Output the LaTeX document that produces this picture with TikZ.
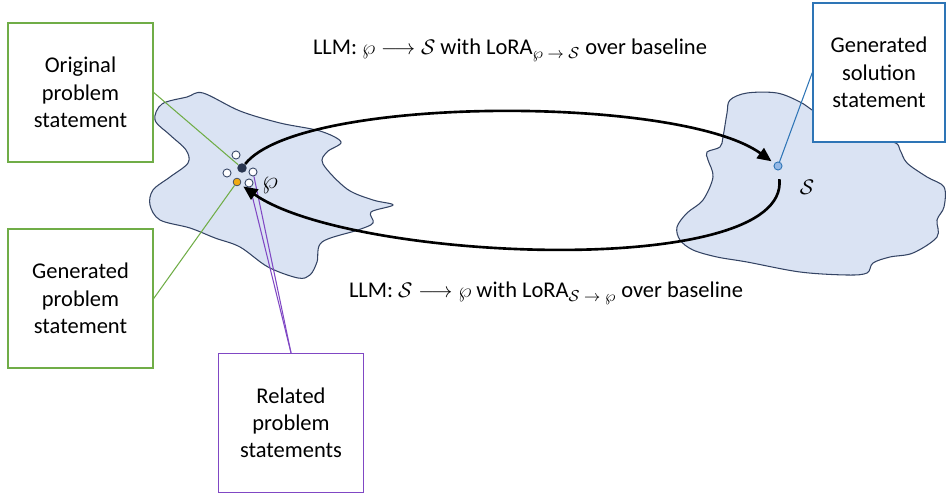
\documentclass[tikz,border=0pt]{standalone}
\usepackage{amsmath}
\usepackage{fontspec}
\setmainfont{Carlito}
\usepackage{xcolor}
\usetikzlibrary{arrows.meta,positioning,calc}

\definecolor{boxgreen}{RGB}{112,173,71}
\definecolor{boxblue}{RGB}{46,117,182}
\definecolor{boxpurple}{RGB}{128,72,196}
\definecolor{blobfill}{RGB}{218,227,243}
\definecolor{blobedge}{RGB}{52,68,100}
\definecolor{dotyellow}{RGB}{240,170,20}
\definecolor{dotblue}{RGB}{150,185,230}

\begin{document}
\begin{tikzpicture}[
x=0.02cm, y=-0.02cm,
every node/.style={font=\fontsize{12.8}{15.5}\selectfont},
labelbox/.style={draw, fill=white, line width=0.8pt, align=center, minimum width=2.9cm, minimum height=2.78cm, inner sep=2pt},
blob/.style={draw=blobedge, fill=blobfill, line width=0.6pt},
dotw/.style={circle, draw=blobedge, fill=white, line width=0.5pt, inner sep=0pt, minimum size=4.6pt},
loop/.style={line width=1.5pt, -{Triangle[length=8pt,width=7pt]}},
leader/.style={line width=0.6pt}
]
\useasboundingbox (0,0) rectangle (946,493);

% problem space and solution space
\draw[blob] plot[smooth cycle, tension=0.55] coordinates {
(203,93) (240,111) (280,123) (320,131) (341,142) (327,152) (323,164)
(347,189) (373,200) (393,205) (371,212) (373,223) (358,230) (322,242)
(317,262) (310,275) (298,278) (268,267) (240,247) (215,238) (190,228)
(160,220) (150,205) (153,190) (170,177) (188,163) (186,150) (170,135)
(155,120) (162,104) (187,97)};
\draw[blob] plot[smooth cycle, tension=0.55] coordinates {
(727,113) (730,100) (747,93) (777,93) (800,102) (815,112) (850,135)
(893,142) (900,150) (907,163) (927,177) (944,187) (944,207) (937,220)
(937,237) (913,253) (890,257) (873,263) (867,273) (847,275) (800,272)
(747,262) (717,257) (693,250) (680,240) (677,227) (687,213) (703,200)
(713,177) (708,160) (707,152) (720,147) (723,137)};

% statements
\node[dotw] (rel1) at (236,155) {};
\node[dotw] (rel2) at (227,173) {};
\node[dotw] (rel3) at (253,172) {};
\node[dotw] (rel4) at (249,183) {};
\node[circle, fill=blobedge!80!black, inner sep=0pt, minimum size=5.4pt] (orig) at (242,168) {};
\node[circle, draw=blobedge, fill=dotyellow, line width=0.4pt, inner sep=0pt, minimum size=4.4pt] (gen) at (237,182) {};
\node[circle, draw=boxblue, fill=dotblue, line width=0.5pt, inner sep=0pt, minimum size=4.6pt] (sol) at (778,166) {};
\node (P) at (270,186) {\Large$\wp$};
\node (S) at (807,187) {$\mathcal{S}$};

% boxes
\node[labelbox, draw=boxgreen] (origbox) at (80.5,92.5) {Original\\problem\\statement};
\node[labelbox, draw=boxgreen] (genbox) at (80.5,298.5) {Generated\\problem\\statement};
\node[labelbox, draw=boxpurple] (relbox) at (291,423) {Related\\problem\\statements};
\node[labelbox, draw=boxblue, minimum width=2.64cm] (solbox) at (879,72.5) {Generated\\solution\\statement};

% leaders
\draw[leader, boxgreen] (origbox.east) -- (orig);
\draw[leader, boxgreen] (genbox.east) -- (gen);
\draw[leader, boxpurple] (relbox.north) -- (rel3);
\draw[leader, boxpurple] (relbox.north) -- (rel4);
\draw[leader, boxblue] (solbox.west) -- (sol);

% mapping loop
\draw[loop, shorten >=2pt] (orig) .. controls (300,95) and (680,95) .. (sol);
\draw[loop, shorten <=5pt, shorten >=2pt] (sol) .. controls (790,280) and (350,262) .. (gen);

\node (fwd) at (510,50) {LLM: $\wp \longrightarrow \mathcal{S}$ with LoRA$_{\wp\;\rightarrow\;\mathcal{S}}$ over baseline};
\node (bwd) at (546,293) {LLM: $\mathcal{S} \longrightarrow \wp$ with LoRA$_{\mathcal{S}\;\rightarrow\;\wp}$ over baseline};
\end{tikzpicture}
\end{document}
